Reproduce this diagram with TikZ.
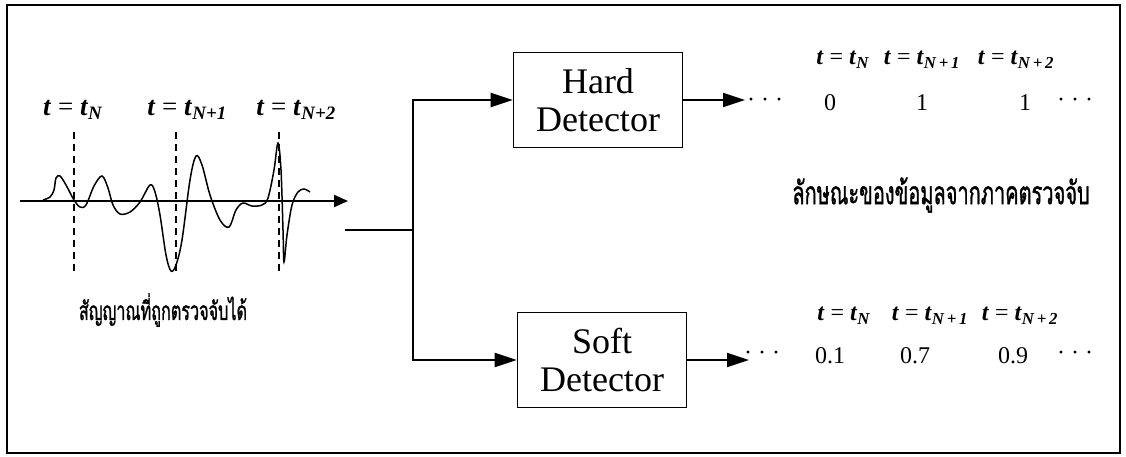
\documentclass[tikz,border=0pt]{standalone}
\usepackage{fontspec}
\setmainfont{Liberation Serif}
\newfontfamily\thaifont[Script=Thai,FakeBold=1.5]{Loma}
\usetikzlibrary{arrows.meta}
\newcommand\tlab[1]{\textbf{\textit{t}} = \textbf{\textit{t}}\textsubscript{\textbf{\textit{#1}}}}
\begin{document}
\begin{tikzpicture}[x=1pt,y=-1pt,
  line/.style={line width=2pt},
  arr/.style={line width=2pt,-{Triangle[length=22pt,width=14pt]}},
  detbox/.style={draw,line width=1.6pt,minimum width=169pt,minimum height=95pt,align=center,font=\fontsize{36}{38}\selectfont,inner sep=0pt},
  biglab/.style={font=\fontsize{27}{29}\selectfont,inner sep=0pt},
  smalllab/.style={font=\fontsize{24}{26}\selectfont,inner sep=0pt},
  val/.style={font=\fontsize{24}{26}\selectfont,inner sep=0pt},
  thai/.style={font=\thaifont\fontsize{20}{22}\selectfont,inner sep=0pt}]
\useasboundingbox (0,0) rectangle (1126,456);
\draw[line width=1.5pt] (7,5) rectangle (1120,453);
% signal
\coordinate (ax0) at (20,201);
\coordinate (ax1) at (348,201);
\draw[line width=2pt,-{Triangle[length=14pt,width=12pt]}] (ax0) -- (ax1);
\foreach \x in {74,176,279}
  \draw[line width=1.6pt,dash pattern=on 7pt off 5pt] (\x,132) -- (\x,272);
\draw[line width=1.5pt] plot[smooth,tension=0.55] coordinates {
 (43,200) (50,197) (54,190) (56,178) (60,176) (66,185) (74,200) (80,207) (86,205) (94,186) (102,176) (108,188) (113,205) (120,214) (130,212) (140,202) (150,185) (155,192) (160,215) (166,255) (171,271) (176,265) (182,240) (190,180) (196,156) (202,165) (210,195) (220,220) (229,227) (236,210) (243,203) (252,206) (262,205) (268,198) (274,170) (278,143) (281,170) (283,230) (284,262) (287,235) (292,205) (298,192) (304,189) (310,192)};
\node[biglab] (l1) at (73,110) {\tlab{N}};
\node[biglab] (l2) at (187,110) {\tlab{N+1}};
\node[biglab] (l3) at (296,110) {\tlab{N+2}};
\node[thai] (cap) at (163,310) {\scalebox{0.81}[1.3]{สัญญาณที่ถูกตรวจจับได้}};
% blocks
\node[detbox] (hard) at (598,100) {Hard\\Detector};
\node[detbox] (soft) at (602,360) {Soft\\Detector};
\coordinate (sigout) at (345,230);
\coordinate (j) at (413,230);
\coordinate (hout) at (745,100);
\coordinate (sout) at (749,360);
\draw[line] (sigout) -- (j);
\draw[arr] (j) |- (hard.west);
\draw[arr] (j) |- (soft.west);
\draw[arr] (hard.east) -- (hout);
\draw[arr] (soft.east) -- (sout);
% hard outputs
\node[smalllab] (h1) at (843,60) {\tlab{N}};
\node[smalllab] (h2) at (922,60) {\tlab{N\,+\,1}};
\node[smalllab] (h3) at (1016,60) {\tlab{N\,+\,2}};
\node[val] (hd0) at (765,103) {· · ·};
\node[val] (hv1) at (830,103) {0};
\node[val] (hv2) at (922,103) {1};
\node[val] (hv3) at (1025,103) {1};
\node[val] (hd1) at (1075,103) {· · ·};
\node[thai] (desc) at (941,195) {\scalebox{1}[1.6]{ลักษณะของข้อมูลจากภาคตรวจจับ}};
% soft outputs
\node[smalllab] (s1) at (844,316) {\tlab{N}};
\node[smalllab] (s2) at (930,316) {\tlab{N\,+\,1}};
\node[smalllab] (s3) at (1020,316) {\tlab{N\,+\,2}};
\node[val] (sd0) at (762,356) {· · ·};
\node[val] (sv1) at (830,356) {0.1};
\node[val] (sv2) at (915,356) {0.7};
\node[val] (sv3) at (1013,356) {0.9};
\node[val] (sd1) at (1075,356) {· · ·};
\end{tikzpicture}
\end{document}
